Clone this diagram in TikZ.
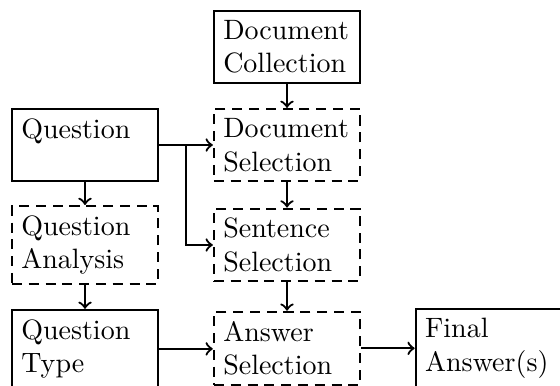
\documentclass[tikz,border=0pt]{standalone}
\usetikzlibrary{calc}
\begin{document}
\begin{tikzpicture}[x=1pt,y=-1pt,
  box/.style={draw, thick, text width=1.6cm, align=left, inner sep=0.3333em},
  dbox/.style={box, dash pattern=on 3.6pt off 2.4pt},
  arr/.style={->, thick}]
\path[use as bounding box] (0,0) rectangle (200,137.86);
\begin{scope}
\clip (0,0) rectangle (200,137.86);
\node[box]  (dc) at (102.5,16.7)  {Document\\Collection};
\node[box]  (q)  at (30.36,51.8)  {Question\\~};
\node[dbox] (ds) at (102.5,51.8)  {Document\\Selection};
\node[dbox] (qa) at (30.36,87.5)  {Question\\Analysis};
\node[dbox] (ss) at (102.5,87.5)  {Sentence\\Selection};
\node[box]  (qt) at (30.36,124.6) {Question\\Type};
\node[dbox] (as) at (102.5,124.4) {Answer\\Selection};
\node[box]  (fa) at (174.6,124.4) {Final\\Answer(s)};
\coordinate (br) at ($(q.east)!0.5!(ds.west)$);
\draw[arr] (dc) -- (ds);
\draw[arr] (q.east) -- (ds.west);
\draw[arr] (br) |- (ss.west);
\draw[arr] (ds) -- (ss);
\draw[arr] (q) -- (qa);
\draw[arr] (qa) -- (qt);
\draw[arr] (ss) -- (as);
\draw[arr] (qt.east) -- (qt.east -| as.west);
\draw[arr] (as) -- (fa);
\end{scope}
\end{tikzpicture}
\end{document}
